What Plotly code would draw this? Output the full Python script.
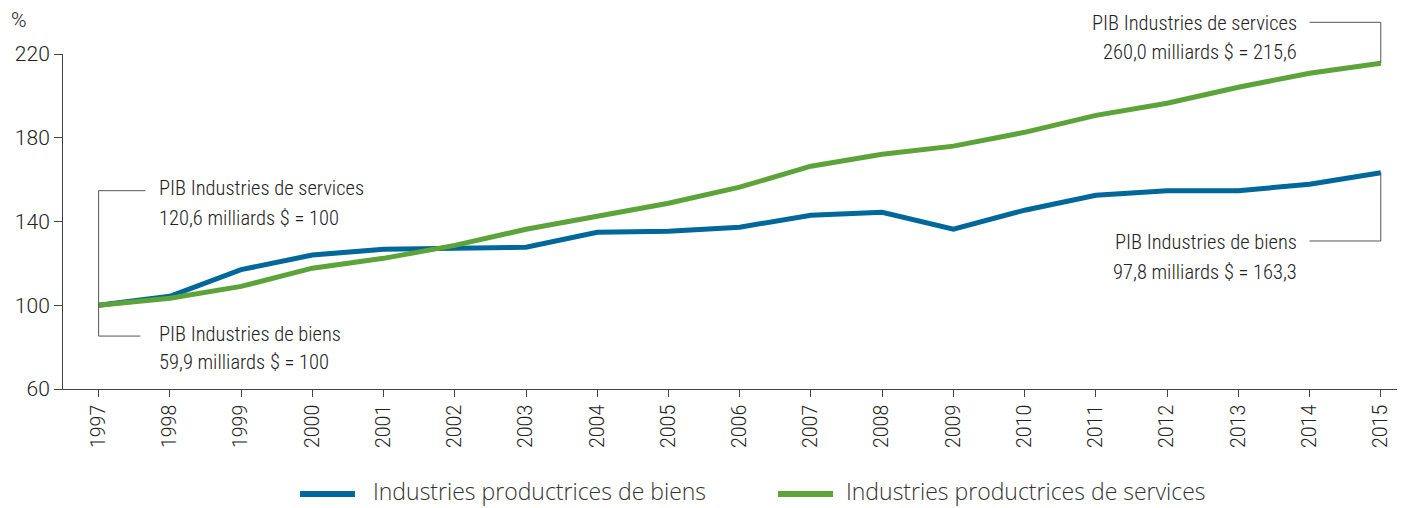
import plotly.graph_objects as go

years = [str(y) for y in range(1997, 2016)]
biens = [100, 104.3, 117.0, 124.0, 126.7, 127.2, 127.7, 134.9, 135.3, 137.3,
         143.0, 144.4, 136.3, 145.4, 152.5, 154.7, 154.7, 157.8, 163.3]
services = [100, 103.3, 109.0, 117.7, 122.4, 128.6, 136.3, 142.5, 148.7, 156.4,
            166.4, 172.1, 176.0, 182.6, 190.7, 196.5, 204.1, 210.8, 215.6]
series_names = ["Industries productrices de biens", "Industries productrices de services"]
y_ticks = [60, 100, 140, 180, 220]
left_notes = [["PIB Industries de services", "120,6 milliards $ = 100"],
              ["PIB Industries de biens", "59,9 milliards $ = 100"]]
right_notes = [["PIB Industries de services", "260,0 milliards $ = 215,6"],
               ["PIB Industries de biens", "97,8 milliards $ = 163,3"]]

BLUE = "#00679A"
GREEN = "#5CA33A"
TXT = "#222222"
ANN_FONT = dict(family="Roboto Condensed, sans-serif", size=20.5, color=TXT, weight=300)
YTICK_FONT = dict(family="Roboto, sans-serif", size=21, color=TXT, weight=300)
XTICK_FONT = dict(family="Roboto, sans-serif", size=19.5, color=TXT, weight=300)
LEG_FONT = dict(family="Open Sans, sans-serif", size=23, color="#333", weight=300)

fig = go.Figure()
xs = list(range(len(years)))
fig.add_trace(go.Scatter(x=xs, y=biens, mode="lines", name=series_names[0],
                         line=dict(color=BLUE, width=5), showlegend=False))
fig.add_trace(go.Scatter(x=xs, y=services, mode="lines", name=series_names[1],
                         line=dict(color=GREEN, width=5), showlegend=False))

n = len(years) - 1
LC = "#555555"
line_style = dict(color=LC, width=1)
# left bracket (paper y for the tips)
fig.add_shape(type="line", xref="x", yref="paper", x0=0, x1=0, y0=0.592, y1=0.158, line=line_style)
fig.add_shape(type="line", xref="x", yref="paper", x0=0, x1=0.656, y0=0.592, y1=0.592, line=line_style)
fig.add_shape(type="line", xref="x", yref="paper", x0=0, x1=0.586, y0=0.158, y1=0.158, line=line_style)
# right top bracket
top_paper = (services[-1] - 60) / 160
fig.add_shape(type="line", xref="x", yref="paper", x0=n, x1=n, y0=top_paper, y1=1.0946, line=line_style)
fig.add_shape(type="line", xref="x", yref="paper", x0=n - 1.0, x1=n, y0=1.0946, y1=1.0946, line=line_style)
# right bottom bracket
bot_paper = (biens[-1] - 60) / 160
fig.add_shape(type="line", xref="x", yref="paper", x0=n, x1=n, y0=bot_paper, y1=0.4418, line=line_style)
fig.add_shape(type="line", xref="x", yref="paper", x0=n - 1.0, x1=n, y0=0.4418, y1=0.4418, line=line_style)

left_y = [[0.600, 0.5104], [0.1642, 0.0806]]
right_y = [[1.0925, 1.006], [0.4397, 0.3501]]
for note, ys in zip(left_notes, left_y):
    for t, yy in zip(note, ys):
        fig.add_annotation(xref="x", yref="paper", x=0, y=yy, xshift=58, xanchor="left",
                           yanchor="middle", showarrow=False, font=ANN_FONT, text=t)
for note, ys in zip(right_notes, right_y):
    for t, yy in zip(note, ys):
        fig.add_annotation(xref="x", yref="paper", x=n, y=yy, xshift=-82, xanchor="right",
                           yanchor="middle", showarrow=False, font=ANN_FONT, text=t)
fig.add_annotation(xref="paper", yref="paper", x=0, xshift=-54, y=1.1015, xanchor="left",
                   yanchor="middle", showarrow=False, font=YTICK_FONT, text="%")

# legend drawn below the axis
leg_items = [(series_names[0], BLUE, 0.1766, 0.2176, 0.2303),
             (series_names[1], GREEN, 0.5328, 0.5738, 0.5827)]
for name, col, x0, x1, xt in leg_items:
    fig.add_shape(type="line", xref="paper", yref="paper", x0=x0, x1=x1, y0=-0.3134, y1=-0.3134,
                  line=dict(color=col, width=6))
    fig.add_annotation(xref="paper", yref="paper", x=xt, y=-0.3045, xanchor="left", yanchor="middle",
                       borderpad=0, showarrow=False, font=LEG_FONT, text=name)

fig.update_xaxes(tickmode="array", tickvals=xs, ticktext=years,
                 range=[-0.5, n + 0.34], tickangle=-90, ticks="outside", ticklen=7,
                 tickcolor="#444", showline=True, linecolor="#444", linewidth=1,
                 showgrid=False, zeroline=False, tickfont=XTICK_FONT, automargin=False)
fig.update_yaxes(range=[60, 220], tickvals=y_ticks, ticks="outside", ticklen=8,
                 tickcolor="#444", showline=True, linecolor="#444", linewidth=1,
                 showgrid=False, zeroline=False, tickfont=YTICK_FONT, automargin=False)

# page body has an 8px default margin: size the figure so the plot area lands where the reference has it
fig.update_layout(width=1397, height=500, margin=dict(l=55, r=0, t=46, b=119),
                  plot_bgcolor="white", paper_bgcolor="white", showlegend=False)
fig.write_html("out.html")
